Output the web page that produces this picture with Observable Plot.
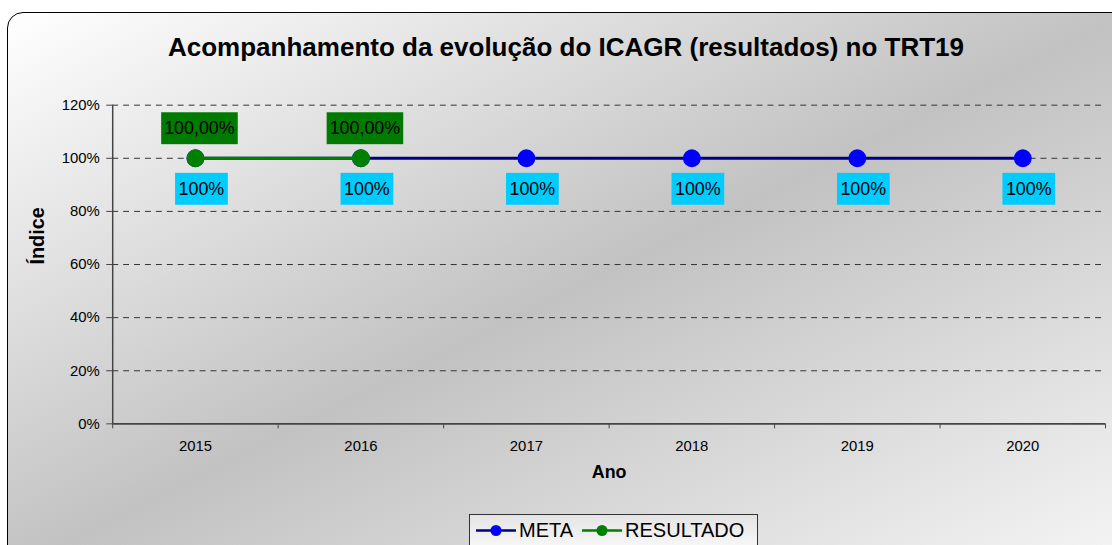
<!DOCTYPE html>
<html>
<head>
<meta charset="utf-8">
<script src="https://cdn.jsdelivr.net/npm/d3@7"></script>
<script src="https://cdn.jsdelivr.net/npm/@observablehq/plot@0.6"></script>
<style>
  html, body { margin: 0; padding: 0; }
  body { width: 1112px; height: 545px; overflow: hidden; position: relative; background: #fff;
         font-family: "Liberation Sans", Arial, sans-serif; }
  #frame { position: absolute; left: 7px; top: 12px; width: 1125px; height: 560px; box-sizing: border-box;
           border: 1.5px solid #000; border-radius: 16px;
           background: linear-gradient(to bottom right, #ffffff 0%, #c2c2c2 50%, #f6f6f6 100%); }
  #title { position: absolute; left: 0; top: 34px; width: 1132px; text-align: center;
           font: bold 26px "Liberation Sans", Arial, sans-serif; line-height: 26px; color: #000; }
  #chart { position: absolute; left: 0; top: 60px; }
  #legend { position: absolute; left: 469px; top: 514px; width: 289px; height: 40px; box-sizing: border-box;
            border: 1px solid #333; padding: 4px 0 0 5px;
            background: linear-gradient(to bottom, #e4e4e4, #fbfbfb); display: flex; align-items: flex-start; }
  #legend .item { display: flex; align-items: center; height: 22px; margin-right: 8px; }
  #legend .item span { font-size: 20px; line-height: 22px; color: #000; margin-left: 2px; }
</style>
</head>
<body>
<div id="frame"></div>
<div id="title"></div>
<div id="chart"></div>
<div id="legend"></div>
<script>
// ---- data ----
const titleText = "Acompanhamento da evolução do ICAGR (resultados) no TRT19";
const years = [2015, 2016, 2017, 2018, 2019, 2020];
const metaValues = [1.00, 1.00, 1.00, 1.00, 1.00, 1.00];
const resultadoYears = [2015, 2016];
const resultadoValues = [1.00, 1.00];
const yTicks = [0, 0.2, 0.4, 0.6, 0.8, 1.0, 1.2];
const seriesNames = ["META", "RESULTADO"];
const seriesColors = { META: { line: "#000080", dot: "#0000ff" }, RESULTADO: { line: "#008000", dot: "#008000" } };
const xLabel = "Ano";
const yLabel = "Índice";

// ---- formats ----
const pct0 = d3.format(".0%");
const ptBR = d3.formatLocale({ decimal: ",", thousands: ".", grouping: [3], currency: ["R$", ""] });
const pct2 = ptBR.format(".2%");

const metaData = years.map((y, i) => ({ year: y, value: metaValues[i] }));
const resData = resultadoYears.map((y, i) => ({ year: y, value: resultadoValues[i] }));
const boundaries = years.map(y => y - 0.5).concat([years[years.length - 1] + 0.5]);

document.getElementById("title").textContent = titleText;

const svg = Plot.plot({
  width: 1120,
  height: 440,
  marginLeft: 113,
  marginRight: 7,
  marginTop: 45,
  marginBottom: 74,
  style: { background: "transparent", fontFamily: "'Liberation Sans', Arial, sans-serif", fontSize: "15px", color: "#000", overflow: "visible" },
  x: { type: "linear", domain: [boundaries[0], boundaries[boundaries.length - 1]] },
  y: { domain: [0, 1.2] },
  marks: [
    Plot.gridY(yTicks.filter(d => d > 0), { stroke: "#333", strokeOpacity: 1, strokeDasharray: "6,5", strokeWidth: 1 }),
    Plot.axisY(yTicks, { tickSize: 6, tickPadding: 7, tickFormat: pct0, stroke: "#444", fill: "#000", fontSize: 15, label: null }),
    Plot.axisX(years, { tickSize: 0, tickPadding: 17, tickFormat: d => String(d), fill: "#000", fontSize: 15, label: null }),
    Plot.axisX(boundaries, { tickSize: 5, tickFormat: () => "", stroke: "#444", label: null }),
    Plot.ruleX([boundaries[0]], { stroke: "#444", strokeWidth: 1.5 }),
    Plot.ruleY([0], { stroke: "#444", strokeWidth: 2 }),
    Plot.text([yLabel], { text: d => d, frameAnchor: "left", dx: -76, rotate: -90, fontWeight: "bold", fontSize: 20, fill: "#000" }),
    Plot.text([xLabel], { text: d => d, frameAnchor: "bottom", dy: 55, fontWeight: "bold", fontSize: 18, fill: "#000" }),
    Plot.line(metaData, { x: "year", y: "value", stroke: seriesColors.META.line, strokeWidth: 3 }),
    Plot.dot(metaData, { x: "year", y: "value", r: 9, fill: seriesColors.META.dot, stroke: "none" }),
    Plot.text(metaData, { x: "year", y: "value", text: d => pct0(d.value), dx: 6, dy: 31, fontSize: 18, fill: "#000", ariaDescription: "meta-labels" }),
    Plot.line(resData, { x: "year", y: "value", stroke: seriesColors.RESULTADO.line, strokeWidth: 3 }),
    Plot.dot(resData, { x: "year", y: "value", r: 9, fill: seriesColors.RESULTADO.dot, stroke: "none" }),
    Plot.text(resData, { x: "year", y: "value", text: d => pct2(d.value), dx: 4, dy: -30, fontSize: 18, fill: "#000", ariaDescription: "resultado-labels" })
  ]
});
document.getElementById("chart").appendChild(svg);

// label background boxes
function boxLabels(desc, color, padX, padY) {
  svg.querySelectorAll(`g[aria-description="${desc}"] text`).forEach(t => {
    const b = t.getBBox();
    const r = document.createElementNS("http://www.w3.org/2000/svg", "rect");
    r.setAttribute("x", b.x - padX);
    r.setAttribute("y", b.y - padY);
    r.setAttribute("width", b.width + 2 * padX);
    r.setAttribute("height", b.height + 2 * padY);
    r.setAttribute("fill", color);
    const tr = t.getAttribute("transform");
    if (tr) r.setAttribute("transform", tr);
    t.parentNode.insertBefore(r, t);
  });
}
boxLabels("meta-labels", "#00ccff", 3.5, 6);
boxLabels("resultado-labels", "#007a00", 3, 6);

// legend
const legend = document.getElementById("legend");
seriesNames.forEach(name => {
  const item = document.createElement("div");
  item.className = "item";
  const c = seriesColors[name];
  item.innerHTML = `<svg width="42" height="22"><line x1="1" x2="41" y1="11.5" y2="11.5" stroke="${c.line}" stroke-width="2.5"/><circle cx="21" cy="11.5" r="5.5" fill="${c.dot}"/></svg><span>${name}</span>`;
  legend.appendChild(item);
});
</script>
</body>
</html>
